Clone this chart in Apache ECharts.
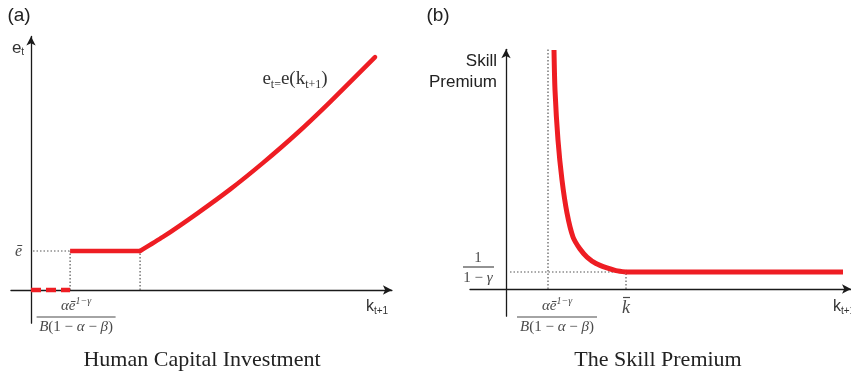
<!DOCTYPE html>
<html><head><meta charset="utf-8">
<script src="https://cdn.jsdelivr.net/npm/echarts@6/dist/echarts.min.js"></script>
<style>html,body{margin:0;padding:0;background:#fff}#c{width:851px;height:376px}</style>
</head><body><div id="c"></div>
<script>
// ---------- Panel (a): Human Capital Investment ----------
const aZeroK = [0, 1.95];          // dashed red segment on the k-axis (e = 0)
const aThresholdK = 1.95;          // αē^{1-γ} / B(1-α-β)
const aKneeK = 5.44;               // end of the flat ē segment
const eBar = 1;                    // ē
const aCurveK = [5.44, 6.58, 8.28, 9.93, 11.57, 13.27, 14.91, 17.16];
const aCurveE = [1.00, 1.36, 1.96, 2.58, 3.26, 4.02, 4.82, 5.97];
// ---------- Panel (b): The Skill Premium ----------
const bThresholdK = 2.1;
const kBar = 6.0;
const premiumFloor = 1;            // 1/(1-γ)
const bCurveK = [2.4, 2.45, 2.6, 2.8, 3.05, 3.35, 3.7, 4.05, 4.5, 5.05, 5.5, 6.0];
const bCurveS = [14.06, 11.7, 8.76, 6.41, 4.47, 3.06, 2.35, 1.88, 1.5, 1.24, 1.08, 1.0];
const bFlatEndK = 16.85;
// titles / labels
const panelTags = ['(a)', '(b)'];
const panelTitles = ['Human Capital Investment', 'The Skill Premium'];

const RED = '#ee1d23';
const AX = '#1a1a1a';
const DOT = '#555';
const MATH = '#4a4a4a';

const chart = echarts.init(document.getElementById('c'), null, {renderer: 'canvas'});

function axis(grid, min, max) {
  return {
    type: 'value', gridIndex: grid, min: min, max: max,
    splitLine: {show: false}, axisTick: {show: false}, axisLabel: {show: false},
    axisLine: {show: true, onZero: true, symbol: ['none', 'arrow'], symbolSize: [7, 9],
      lineStyle: {color: AX, width: 1.3}}
  };
}
function seg(xi, pts, style, z) {
  return {type: 'line', xAxisIndex: xi, yAxisIndex: xi, data: pts, symbol: 'none',
    silent: true, animation: false, z: z || 2, lineStyle: style};
}
const dotted = {color: DOT, width: 1.2, type: [1.5, 2]};
const redSolid = {color: RED, width: 4.5, cap: 'round', join: 'round'};
const redB = {color: RED, width: 5, cap: 'butt', join: 'round'};

const series = [
  // panel a dotted guides
  seg(0, [[0.1, eBar], [aThresholdK, eBar]], dotted),
  seg(0, [[aThresholdK, 0], [aThresholdK, eBar]], dotted),
  seg(0, [[aKneeK, 0], [aKneeK, eBar]], dotted),
  // panel a red
  seg(0, aZeroK.map(k => [k, 0]), {color: RED, width: 4.5, type: [10, 5]}, 5),
  seg(0, [[aThresholdK, eBar], [aKneeK, eBar]], {color: RED, width: 4.5}, 5),
  Object.assign(seg(0, aCurveK.map((k, i) => [k, aCurveE[i]]), redSolid, 5), {smooth: 0.2}),
  // panel b dotted guides
  seg(1, [[bThresholdK, 0], [bThresholdK, 14.1]], dotted),
  seg(1, [[0.2, premiumFloor], [kBar, premiumFloor]], dotted),
  seg(1, [[kBar, 0], [kBar, premiumFloor]], dotted),
  // panel b red
  Object.assign(seg(1, bCurveK.map((k, i) => [k, bCurveS[i]]), redB, 5), {smooth: 0.25}),
  seg(1, [[kBar, premiumFloor], [bFlatEndK, premiumFloor]], {color: RED, width: 5}, 5)
];

chart.setOption({
  animation: false,
  backgroundColor: '#fff',
  grid: [
    {left: 10.95, top: 36.5, width: 380.95, height: 286.65},
    {left: 470, top: 49.3, width: 381, height: 266.9}
  ],
  xAxis: [axis(0, -1, 18), axis(1, -1.8, 17.25)],
  yAxis: [axis(0, -0.85, 6.5), axis(1, -1.6, 14.1)],
  series: series
});

const pa = (x, y) => chart.convertToPixel({gridIndex: 0}, [x, y]);
const pb = (x, y) => chart.convertToPixel({gridIndex: 1}, [x, y]);

const serif = '"Liberation Serif", "DejaVu Serif", serif';
const sans = '"Liberation Sans", Arial, sans-serif';

function txt(x, y, text, style) {
  return {type: 'text', x: x, y: y, silent: true, z: 100,
    style: Object.assign({text: text, fill: '#222', align: 'center', verticalAlign: 'middle'}, style)};
}
function hline(x1, x2, y, color, w) {
  return {type: 'line', silent: true, z: 100, shape: {x1: x1, y1: y, x2: x2, y2: y},
    style: {stroke: color || MATH, lineWidth: w || 1.2}};
}
const mathRich = {
  i: {fontFamily: serif, fontStyle: 'italic', fontSize: 15, fill: MATH, color: MATH},
  sup: {fontFamily: serif, fontStyle: 'italic', fontSize: 10, fill: MATH, color: MATH, verticalAlign: 'top', lineHeight: 20},
  n: {fontFamily: serif, fontSize: 15, fill: MATH, color: MATH}
};
function fraction(cx, cy, halfW, num, den) {
  return [
    txt(cx, cy - 11, num, {rich: mathRich, fill: MATH}),
    hline(cx - halfW, cx + halfW, cy),
    txt(cx, cy + 10, den, {rich: mathRich, fill: MATH})
  ];
}

const aE = pa(0, eBar), aT = pa(aThresholdK, 0);
const bF = pb(0, premiumFloor), bT = pb(bThresholdK, 0), bK = pb(kBar, 0);

const g = [];
// tags
g.push(txt(19, 16, panelTags[0], {font: '19px ' + sans, fill: '#222'}));
g.push(txt(438, 16, panelTags[1], {font: '19px ' + sans, fill: '#222'}));
// titles
g.push(txt(202, 360, panelTitles[0], {font: '22px ' + serif, fill: '#222'}));
g.push(txt(658, 360, panelTitles[1], {font: '22px ' + serif, fill: '#222'}));
// panel a axis names
g.push(txt(18, 48, '{b|e}{s|t}', {rich: {
  b: {fontFamily: sans, fontSize: 17, fill: '#333', color: '#333'},
  s: {fontFamily: sans, fontSize: 10, fill: '#333', color: '#333', verticalAlign: 'bottom', lineHeight: 19}}}));
g.push(txt(377, 307, '{b|k}{s|t+1}', {rich: {
  b: {fontFamily: sans, fontSize: 16, fill: '#333', color: '#333'},
  s: {fontFamily: sans, fontSize: 10, fill: '#333', color: '#333', verticalAlign: 'bottom', lineHeight: 18}}}));
g.push(txt(295, 79, '{m|e}{s|t=}{m|e(k}{s|t+1}{m|)}', {rich: {
  m: {fontFamily: serif, fontSize: 19, fill: '#333', color: '#333'},
  s: {fontFamily: serif, fontSize: 12, fill: '#333', color: '#333', verticalAlign: 'bottom', lineHeight: 24}}}));
// ē label
g.push(txt(18.5, aE[1] + 1, '{i|ē}', {rich: {i: {fontFamily: serif, fontStyle: 'italic', fontSize: 16, fill: MATH, color: MATH}}}));
// threshold fraction (a)
fraction(aT[0] + 6, 317, 39.5, '{i|αē}{sup|1−γ}', '{i|B}{n|(1 − }{i|α}{n| − }{i|β}{n|)}').forEach(e => g.push(e));
// panel b axis names
g.push(txt(497, 72, 'Skill\nPremium', {font: '17px ' + sans, fill: '#222', align: 'right', lineHeight: 21}));
g.push(txt(844, 307, '{b|k}{s|t+1}', {rich: {
  b: {fontFamily: sans, fontSize: 16, fill: '#333', color: '#333'},
  s: {fontFamily: sans, fontSize: 10, fill: '#333', color: '#333', verticalAlign: 'bottom', lineHeight: 18}}}));
// 1/(1-γ)
g.push(txt(478, bF[1] - 14, '{n|1}', {rich: mathRich}));
g.push(hline(463, 494, bF[1] - 5));
g.push(txt(478, bF[1] + 6, '{n|1 − }{i|γ}', {rich: mathRich}));
// threshold fraction (b)
fraction(bT[0] + 9, 317, 40, '{i|αē}{sup|1−γ}', '{i|B}{n|(1 − }{i|α}{n| − }{i|β}{n|)}').forEach(e => g.push(e));
// k̄
g.push(txt(bK[0], 308, '{i|k}', {rich: {i: {fontFamily: serif, fontStyle: 'italic', fontSize: 18, fill: MATH, color: MATH}}}));
g.push(hline(bK[0] - 3, bK[0] + 4, 297.5, MATH, 1.2));

chart.setOption({graphic: g});
</script>
</body></html>
